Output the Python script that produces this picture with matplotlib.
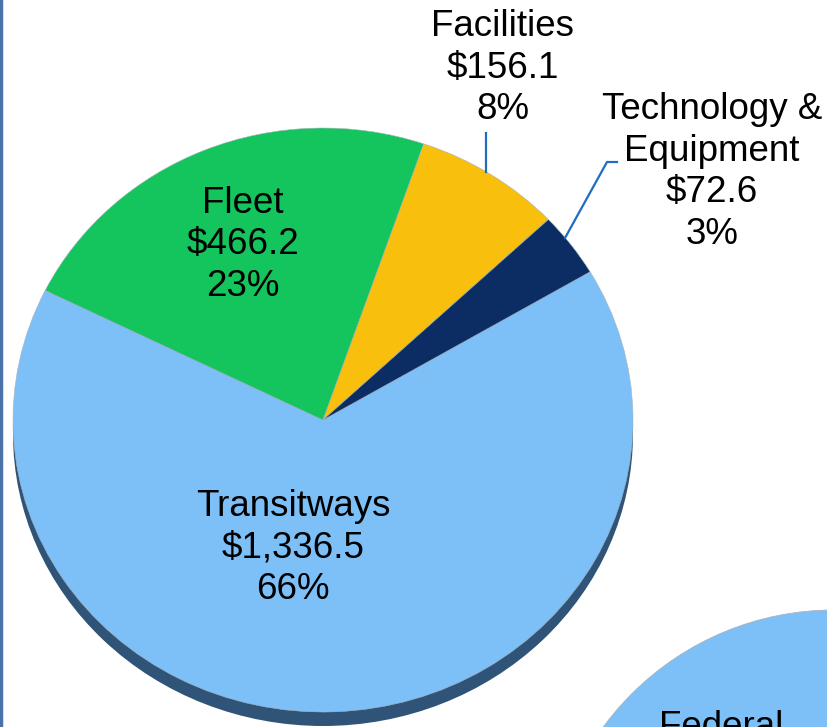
import matplotlib.pyplot as plt
from matplotlib.patches import Ellipse, Circle
from matplotlib.transforms import Affine2D

# --- Data ---
categories = ['Transitways', 'Fleet', 'Facilities', 'Technology &\nEquipment']
amounts = [1336.5, 466.2, 156.1, 72.6]
amount_labels = ['$1,336.5', '$466.2', '$156.1', '$72.6']
pct_labels = ['66%', '23%', '8%', '3%']
colors = ['#7cc0f7', '#14c45c', '#f8bf0c', '#0b2d63']

# --- Layout (pixel coords, y measured from top) ---
W, H = 827, 727
CX, CY = 323, 420
RX, RY = 310, 292
FONT = 'Liberation Sans'
FS = 26.5


def py(y):
    return H - y


fig = plt.figure(figsize=(W / 100, H / 100), dpi=100)
ax = fig.add_axes([0, 0, 1, 1])

# dark rim under the tilted pie
ax.add_patch(Ellipse((CX, py(CY + 14)), 2 * RX, 2 * RY, facecolor='#2f5477',
                     edgecolor='none', zorder=1))

wedges, _ = ax.pie(amounts, colors=colors, startangle=30.5, counterclock=False,
                   center=(CX, py(CY)), radius=RX,
                   wedgeprops=dict(edgecolor='#a8b4c0', linewidth=0.4))
squash = Affine2D().translate(-CX, -py(CY)).scale(1, RY / RX).translate(CX, py(CY))
for w in wedges:
    w.set_transform(squash + ax.transData)
    w.set_zorder(2)

# pie() resets the limits, so set them afterwards
ax.set_xlim(0, W)
ax.set_ylim(0, H)
ax.set_aspect('equal')
ax.axis('off')

# second chart peeking in at the bottom right
ax.add_patch(Circle((834, py(896)), 286, facecolor='#7cc0f7', edgecolor='#a8b4c0',
                    linewidth=0.6, zorder=2))
ax.text(721, py(710), 'Federal', ha='center', va='top', fontsize=FS,
        family=FONT, zorder=3)

# labels
label_pos = [(293, 548), (243, 245), (503, 68), (712, 172)]
for cat, amt, pct, (x, y) in zip(categories, amount_labels, pct_labels, label_pos):
    ax.text(x, py(y), f'{cat}\n{amt}\n{pct}', ha='center', va='center',
            fontsize=FS, family=FONT, linespacing=1.24, zorder=4)

# leader lines
ax.plot([486, 486], [py(133), py(172)], color='#1f6dc0', lw=1.6, zorder=3)
ax.plot([565, 607, 617], [py(238), py(162), py(162)], color='#1f6dc0', lw=1.6, zorder=3)

# left border
ax.plot([1, 1], [0, H], color='#4a72a8', lw=2.5, zorder=5)

fig.savefig('out.png', dpi=100)
